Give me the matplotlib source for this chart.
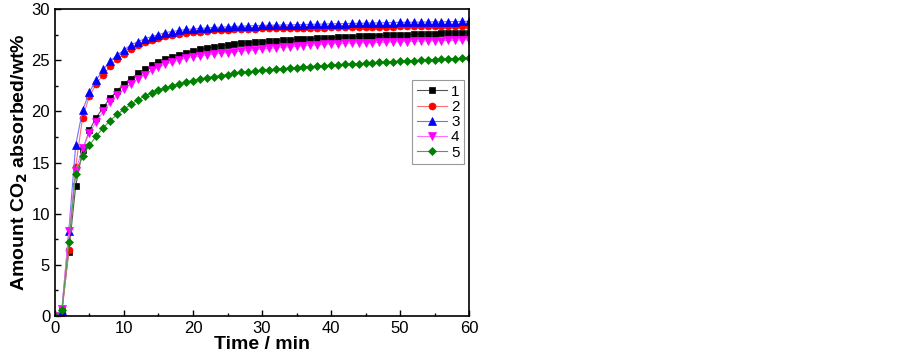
import numpy as np
import matplotlib
matplotlib.use("Agg")
import matplotlib.pyplot as plt
from matplotlib.ticker import MultipleLocator

plt.rcParams['font.family'] = ['Liberation Sans', 'DejaVu Sans']

time_min = list(range(0, 61))

s1 = [0.0, 0.5, 6.3, 12.7, 16.2, 18.2, 19.4, 20.4, 21.3, 22.0, 22.7,
      23.2, 23.7, 24.1, 24.5, 24.8, 25.1, 25.3, 25.5, 25.7, 25.9,
      26.05, 26.2, 26.3, 26.4, 26.5, 26.6, 26.65, 26.7, 26.75, 26.8,
      26.85, 26.9, 26.95, 27.0, 27.03, 27.06, 27.1, 27.13, 27.16, 27.2,
      27.23, 27.26, 27.29, 27.32, 27.35, 27.38, 27.4, 27.43, 27.46, 27.48,
      27.5, 27.52, 27.55, 27.57, 27.59, 27.61, 27.63, 27.65, 27.67, 27.7]

s2 = [0.0, 0.3, 6.5, 14.6, 19.4, 21.5, 22.7, 23.6, 24.4, 25.1, 25.6,
      26.1, 26.5, 26.8, 27.0, 27.2, 27.4, 27.5, 27.6, 27.7, 27.75,
      27.8, 27.85, 27.9, 27.93, 27.96, 28.0, 28.02, 28.05, 28.07, 28.1,
      28.11, 28.12, 28.13, 28.14, 28.15, 28.16, 28.17, 28.18, 28.19, 28.2,
      28.21, 28.22, 28.23, 28.24, 28.25, 28.26, 28.27, 28.28, 28.29, 28.3,
      28.3, 28.31, 28.31, 28.32, 28.32, 28.33, 28.33, 28.34, 28.34, 28.35]

s3 = [0.0, 0.5, 8.3, 16.7, 20.1, 21.9, 23.1, 24.1, 24.9, 25.5, 26.0,
      26.5, 26.8, 27.1, 27.3, 27.5, 27.7, 27.8, 27.9, 28.0, 28.05,
      28.1, 28.15, 28.2, 28.23, 28.26, 28.3, 28.32, 28.35, 28.37, 28.4,
      28.41, 28.42, 28.44, 28.45, 28.47, 28.48, 28.5, 28.51, 28.53, 28.55,
      28.56, 28.57, 28.59, 28.6, 28.62, 28.63, 28.65, 28.66, 28.68, 28.7,
      28.7, 28.71, 28.72, 28.73, 28.74, 28.75, 28.76, 28.77, 28.78, 28.8]

s4 = [0.0, 0.7, 8.3, 14.2, 16.4, 17.9, 19.0, 20.0, 20.9, 21.6, 22.2,
      22.7, 23.2, 23.6, 24.0, 24.3, 24.6, 24.8, 25.0, 25.2, 25.3,
      25.4, 25.5, 25.6, 25.7, 25.75, 25.8, 25.9, 25.95, 26.0, 26.1,
      26.15, 26.2, 26.25, 26.3, 26.35, 26.4, 26.45, 26.5, 26.55, 26.6,
      26.62, 26.64, 26.66, 26.68, 26.7, 26.72, 26.74, 26.76, 26.78, 26.8,
      26.82, 26.84, 26.86, 26.88, 26.9, 26.92, 26.94, 26.96, 26.98, 27.0]

s5 = [0.0, 0.6, 7.2, 13.9, 15.6, 16.7, 17.6, 18.4, 19.1, 19.7, 20.2,
      20.7, 21.1, 21.5, 21.8, 22.1, 22.3, 22.5, 22.7, 22.9, 23.0,
      23.15, 23.3, 23.4, 23.5, 23.6, 23.7, 23.8, 23.85, 23.93, 24.0,
      24.06, 24.12, 24.18, 24.23, 24.28, 24.33, 24.38, 24.42, 24.46, 24.5,
      24.54, 24.58, 24.62, 24.66, 24.7, 24.74, 24.78, 24.82, 24.86, 24.9,
      24.93, 24.96, 24.99, 25.02, 25.05, 25.08, 25.11, 25.14, 25.17, 25.2]

labels = ["1", "2", "3", "4", "5"]


def main():
    fig = plt.figure(figsize=(9.03, 3.6), dpi=100)
    ax = fig.add_axes([0.0609, 0.122, 0.4585, 0.853])

    # marker colour, lighter line colour, marker, size
    styles = [("black", "#555555", "s", 4.5), ("red", "#ff7070", "o", 5),
              ("blue", "#7070ff", "^", 5.5), ("magenta", "#ff70ff", "v", 5.5),
              ("green", "#50a050", "D", 4.5)]
    for ys, lab, (c, lc, m, ms) in zip([s1, s2, s3, s4, s5], labels, styles):
        ax.plot(time_min, ys, color=lc, marker=m, markersize=ms, linewidth=0.8,
                markerfacecolor=c, markeredgecolor=c, markeredgewidth=0.5,
                label=lab)

    ax.set_xlim(0, 60)
    ax.set_ylim(0, 30)
    ax.xaxis.set_major_locator(MultipleLocator(10))
    ax.xaxis.set_minor_locator(MultipleLocator(5))
    ax.yaxis.set_major_locator(MultipleLocator(5))
    ax.yaxis.set_minor_locator(MultipleLocator(2.5))
    ax.tick_params(which="both", direction="in", top=False, right=False, labelsize=12)
    ax.tick_params(which="major", length=4, width=1)
    ax.tick_params(which="minor", length=2.5, width=1)
    for sp in ax.spines.values():
        sp.set_linewidth(1.2)

    ax.set_xlabel("Time / min", fontsize=14, fontweight="bold", labelpad=0)
    ax.set_ylabel("Amount CO$_\\mathbf{2}$ absorbed/wt%", fontsize=14,
                  fontweight="bold", labelpad=1)

    leg = ax.legend(loc="upper right", bbox_to_anchor=(0.988, 0.768), fontsize=11,
                    fancybox=False, edgecolor="gray", handlelength=2.0,
                    handletextpad=0.25, labelspacing=0.08, borderpad=0.3,
                    borderaxespad=0.0)
    leg.get_frame().set_linewidth(0.8)

    fig.savefig("out.png", dpi=100)


if __name__ == '__main__':
    main()
